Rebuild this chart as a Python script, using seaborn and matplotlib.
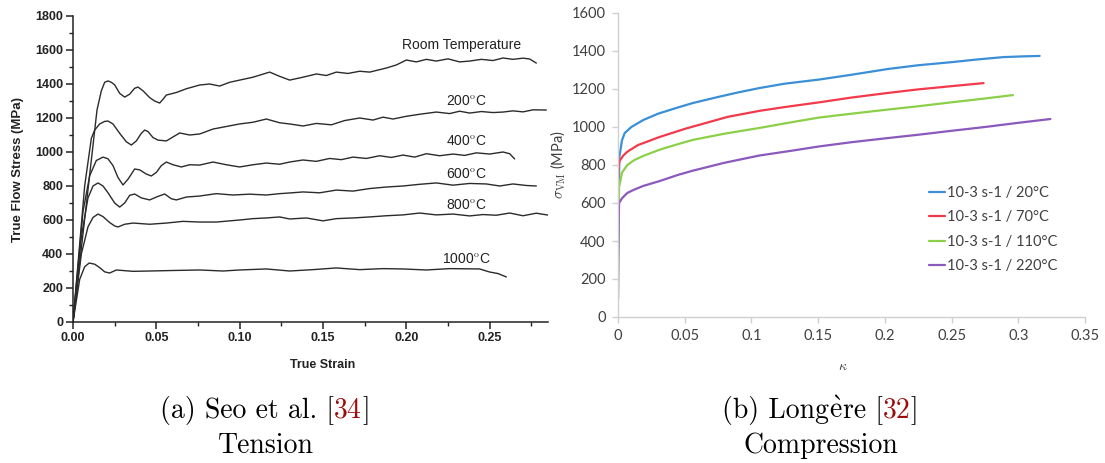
import numpy as np
import pandas as pd
import matplotlib
matplotlib.use("Agg")
import matplotlib.pyplot as plt
import seaborn as sns
from matplotlib.ticker import MultipleLocator

sns.set_theme(style="white")
plt.rcParams["mathtext.fontset"] = "cm"

# ---------------- Data: (a) Seo et al. tension ----------------
rt_strain = [0, 0.0144, 0.017, 0.019, 0.021, 0.023, 0.025, 0.028, 0.031, 0.034, 0.037, 0.039,
             0.042, 0.046, 0.049, 0.052, 0.054, 0.056, 0.062, 0.068, 0.076,
             0.082, 0.088, 0.094, 0.100, 0.108, 0.118, 0.124, 0.130, 0.138, 0.146, 0.152, 0.158, 0.165,
             0.172, 0.178, 0.183, 0.188, 0.194, 0.200, 0.206, 0.212, 0.218, 0.225, 0.232, 0.238, 0.245,
             0.252, 0.258, 0.264, 0.270, 0.274, 0.278]
rt_stress = [0, 1247, 1360, 1410, 1418, 1410, 1395, 1345, 1323, 1340, 1375, 1382,
             1360, 1320, 1300, 1288, 1310, 1335, 1350, 1372, 1394,
             1400, 1388, 1410, 1423, 1440, 1470, 1445, 1423, 1440, 1459, 1450, 1470, 1462,
             1475, 1470, 1482, 1494, 1512, 1541, 1530, 1545, 1535, 1548, 1530, 1535, 1545,
             1538, 1553, 1545, 1552, 1547, 1523]

t200_strain = [0, 0.007, 0.011, 0.013, 0.016, 0.019, 0.021, 0.024, 0.028, 0.032, 0.035, 0.038,
               0.041, 0.043, 0.045, 0.048, 0.051, 0.056, 0.064, 0.070, 0.076,
               0.084, 0.092, 0.100, 0.108, 0.116, 0.124, 0.130, 0.138, 0.146, 0.155, 0.163, 0.172,
               0.180, 0.186, 0.192, 0.200, 0.208, 0.218, 0.226, 0.232, 0.238, 0.245, 0.252, 0.258,
               0.264, 0.270, 0.276, 0.284]
t200_stress = [0, 800, 1080, 1129, 1165, 1180, 1182, 1165, 1110, 1060, 1041, 1065,
               1110, 1129, 1120, 1085, 1070, 1065, 1112, 1100, 1106,
               1135, 1150, 1165, 1175, 1194, 1172, 1165, 1153, 1168, 1160, 1185, 1200,
               1188, 1205, 1194, 1210, 1222, 1235, 1226, 1240, 1229, 1238, 1232, 1235,
               1242, 1236, 1248, 1247]

t400_strain = [0, 0.006, 0.010, 0.014, 0.018, 0.021, 0.024, 0.027, 0.030, 0.033, 0.037, 0.040,
               0.044, 0.047, 0.050, 0.053, 0.056, 0.060, 0.065, 0.070, 0.076,
               0.084, 0.092, 0.100, 0.108, 0.116, 0.124, 0.130, 0.138, 0.146, 0.154, 0.161, 0.168,
               0.176, 0.184, 0.191, 0.198, 0.205, 0.212, 0.220, 0.228, 0.235, 0.242, 0.250, 0.258,
               0.262, 0.265]
t400_stress = [0, 650, 860, 950, 970, 960, 920, 850, 806, 840, 900, 895,
               870, 859, 880, 920, 941, 925, 912, 925, 923,
               941, 925, 912, 925, 935, 928, 941, 953, 945, 962, 955, 970,
               962, 978, 968, 982, 970, 990, 978, 988, 980, 995, 988, 1000,
               990, 959]

t600_strain = [0, 0.005, 0.009, 0.012, 0.015, 0.018, 0.021, 0.025, 0.028, 0.031, 0.034, 0.037,
               0.041, 0.046, 0.050, 0.055, 0.059, 0.062, 0.068, 0.076,
               0.086, 0.096, 0.106, 0.116, 0.124, 0.130, 0.138, 0.148, 0.158, 0.168, 0.178, 0.188,
               0.198, 0.208, 0.218, 0.228, 0.238, 0.248, 0.256, 0.264, 0.272, 0.278]
t600_stress = [0, 500, 730, 800, 818, 800, 760, 700, 676, 700, 745, 753,
               730, 718, 735, 753, 725, 718, 735, 741,
               755, 747, 752, 747, 755, 759, 765, 760, 776, 770, 785, 794,
               800, 810, 818, 805, 815, 812, 800, 812, 803, 800]

t800_strain = [0, 0.005, 0.009, 0.012, 0.015, 0.018, 0.022, 0.025, 0.027, 0.031, 0.036, 0.046,
               0.056, 0.066, 0.076, 0.086,
               0.100, 0.108, 0.116, 0.124, 0.130, 0.140, 0.150, 0.158, 0.168, 0.178, 0.188, 0.198,
               0.208, 0.218, 0.228, 0.238, 0.246, 0.254, 0.262, 0.270, 0.278, 0.285]
t800_stress = [0, 400, 560, 615, 635, 620, 585, 565, 559, 575, 582, 575,
               582, 592, 588, 588,
               600, 608, 612, 618, 606, 612, 595, 608, 612, 618, 625, 630,
               641, 630, 635, 624, 632, 628, 641, 625, 640, 629]

t1000_strain = [0, 0.004, 0.007, 0.0097, 0.013, 0.016, 0.019, 0.022, 0.026, 0.036, 0.046, 0.060,
                0.076, 0.090, 0.100, 0.116, 0.130, 0.144, 0.158, 0.172, 0.186, 0.198, 0.212, 0.226,
                0.244, 0.250, 0.255, 0.260]
t1000_stress = [0, 250, 325, 347, 340, 320, 295, 288, 306, 298, 300, 303,
                306, 300, 306, 312, 300, 308, 318, 308, 314, 312, 306, 314,
                312, 294, 285, 265]

tension_series = [
    (rt_strain, rt_stress), (t200_strain, t200_stress), (t400_strain, t400_stress),
    (t600_strain, t600_stress), (t800_strain, t800_stress), (t1000_strain, t1000_stress),
]
tension_labels = ["Room Temperature", r"200$^{\rm o}$C", r"400$^{\rm o}$C",
                  r"600$^{\rm o}$C", r"800$^{\rm o}$C", r"1000$^{\rm o}$C"]
tension_label_x = [0.233, 0.236, 0.236, 0.236, 0.236, 0.236]
tension_label_y = [1630, 1300, 1065, 870, 690, 370]

# ---------------- Data: (b) Longere compression ----------------
b20_kappa = [0, 0.0005, 0.001, 0.003, 0.005, 0.010, 0.019, 0.030, 0.045, 0.056, 0.075, 0.090,
             0.106, 0.125, 0.151, 0.175, 0.202, 0.225, 0.251, 0.270, 0.289, 0.305, 0.316]
b20_sigma = [320, 600, 842, 930, 968, 1000, 1037, 1070, 1103, 1126, 1158, 1182,
             1205, 1228, 1250, 1275, 1305, 1325, 1342, 1356, 1368, 1372, 1374]
b70_kappa = [0, 0.0005, 0.001, 0.004, 0.007, 0.015, 0.031, 0.050, 0.082, 0.106, 0.125, 0.151,
             0.175, 0.202, 0.225, 0.250, 0.274]
b70_sigma = [711, 790, 820, 850, 870, 905, 947, 990, 1053, 1085, 1105, 1130,
             1155, 1179, 1198, 1215, 1231]
b110_kappa = [0, 0.0003, 0.0008, 0.003, 0.007, 0.012, 0.019, 0.031, 0.045, 0.056, 0.080, 0.106,
              0.130, 0.151, 0.175, 0.200, 0.226, 0.250, 0.275, 0.296]
b110_sigma = [89, 400, 684, 760, 800, 825, 848, 880, 910, 932, 965, 995,
              1025, 1050, 1070, 1090, 1110, 1130, 1150, 1168]
b220_kappa = [0, 0.0003, 0.0008, 0.003, 0.007, 0.012, 0.019, 0.031, 0.045, 0.056, 0.080, 0.106,
              0.130, 0.151, 0.175, 0.200, 0.226, 0.250, 0.275, 0.300, 0.324]
b220_sigma = [100, 350, 600, 625, 653, 670, 690, 715, 748, 770, 812, 850,
              875, 898, 920, 940, 960, 980, 1000, 1022, 1042]

comp_series = [(b20_kappa, b20_sigma), (b70_kappa, b70_sigma),
               (b110_kappa, b110_sigma), (b220_kappa, b220_sigma)]
comp_labels = ["10-3 s-1 / 20°C", "10-3 s-1 / 70°C", "10-3 s-1 / 110°C", "10-3 s-1 / 220°C"]
comp_colors = ["#3a8fd6", "#f23a4b", "#8bd048", "#8b59bd"]

# ---------------- Figure ----------------
W, H = 1105, 463
fig = plt.figure(figsize=(W / 100, H / 100), dpi=100)
fig.patch.set_facecolor("white")

def rect(l, t, r, b):
    return [l / W, 1 - b / H, (r - l) / W, (b - t) / H]

# ----- Left panel -----
axL = fig.add_axes(rect(73, 16, 548, 322))
frames = []
for (s, v), lab in zip(tension_series, tension_labels):
    frames.append(pd.DataFrame({"strain": s, "stress": v, "curve": lab}))
dfL = pd.concat(frames, ignore_index=True)
sns.lineplot(data=dfL, x="strain", y="stress", units="curve", estimator=None,
             color="#2b2b2b", lw=1.0, sort=False, ax=axL, legend=False)
for lab, lx, ly in zip(tension_labels, tension_label_x, tension_label_y):
    axL.text(lx, ly, lab, ha="center", va="center", fontsize=10,
             family="Liberation Sans", color="#222222")
axL.set_xlim(0, 0.285)
axL.set_ylim(0, 1800)
axL.xaxis.set_major_locator(MultipleLocator(0.05))
axL.xaxis.set_minor_locator(MultipleLocator(0.025))
axL.yaxis.set_major_locator(MultipleLocator(200))
axL.yaxis.set_minor_locator(MultipleLocator(100))
axL.xaxis.set_major_formatter(matplotlib.ticker.FormatStrFormatter("%.2f"))
for sp in ["top", "right"]:
    axL.spines[sp].set_visible(False)
for sp in ["left", "bottom"]:
    axL.spines[sp].set_color("#222222")
    axL.spines[sp].set_linewidth(1.1)
axL.tick_params(which="major", direction="out", length=5, width=1.1, color="#222222",
                labelsize=9, pad=2, bottom=True, left=True)
axL.tick_params(which="minor", direction="out", length=3, width=1.0, color="#222222",
                bottom=True, left=True)
for t in axL.get_xticklabels() + axL.get_yticklabels():
    t.set_fontweight("bold")
    t.set_family("Liberation Sans")
    t.set_color("#222222")
axL.set_xlabel("True Strain", fontsize=9, fontweight="bold", family="Liberation Sans",
               color="#222222")
axL.xaxis.set_label_coords((323 - 73) / (548 - 73), -(365 - 322) / (322 - 16), transform=axL.transAxes)
axL.xaxis.label.set_va("center")
axL.set_ylabel("True Flow Stress (MPa)", fontsize=9.5, fontweight="bold",
               family="Liberation Sans", color="#222222", labelpad=8)

# ----- Right panel -----
axR = fig.add_axes(rect(618, 13, 1085, 317))
frames = []
for (k, s), lab in zip(comp_series, comp_labels):
    frames.append(pd.DataFrame({"kappa": k, "sigma": s, "serie": lab}))
dfR = pd.concat(frames, ignore_index=True)
sns.lineplot(data=dfR, x="kappa", y="sigma", hue="serie", palette=comp_colors,
             estimator=None, sort=False, lw=1.6, ax=axR)
axR.set_xlim(0, 0.35)
axR.set_ylim(0, 1600)
axR.xaxis.set_major_locator(MultipleLocator(0.05))
axR.yaxis.set_major_locator(MultipleLocator(200))
axR.xaxis.set_major_formatter(matplotlib.ticker.FuncFormatter(lambda v, p: f"{v:g}"))
for sp in ["top", "right"]:
    axR.spines[sp].set_visible(False)
for sp in ["left", "bottom"]:
    axR.spines[sp].set_color("#d0d0d0")
    axR.spines[sp].set_linewidth(1.0)
axR.tick_params(which="major", direction="out", length=4, width=1.0, color="#d0d0d0",
                labelsize=10.5, labelcolor="#404040", pad=5, bottom=True, left=True)
for t in axR.get_xticklabels() + axR.get_yticklabels():
    t.set_family("Lato")
axR.set_xlabel(r"$\kappa$", fontsize=10, color="#404040")
axR.xaxis.set_label_coords((843 - 618) / (1085 - 618), -(366 - 317) / (317 - 13), transform=axR.transAxes)
axR.xaxis.label.set_va("center")
axR.set_ylabel(r"$\sigma_{\rm VM}$ (MPa)", fontsize=10.5, color="#404040",
               family="Lato", labelpad=3)
leg = axR.legend(loc="upper left", bbox_to_anchor=(929 / W, 1 - 186 / H),
                 bbox_transform=fig.transFigure, frameon=False, borderpad=0,
                 borderaxespad=0, handlelength=1.1, handletextpad=0.15,
                 labelspacing=0.72, prop={"family": "Lato", "size": 10.5})
for t in leg.get_texts():
    t.set_color("#404040")
for h in leg.get_lines():
    h.set_linewidth(1.6)

# ----- Captions -----
cap_size = 20
red = "#9b0d0d"
cap_family = ["cmr10", "DejaVu Serif"]
fig.canvas.draw()
renderer = fig.canvas.get_renderer()

def caption(cx, y, parts):
    # parts: list of (text, color); laid out left-to-right and centered on cx (pixels)
    texts = []
    widths = []
    for s, c in parts:
        t = fig.text(0, y / H, s, fontsize=cap_size, color=c, ha="left", va="baseline",
                     family=cap_family)
        bb = t.get_window_extent(renderer)
        texts.append(t)
        widths.append(bb.width)
    total = sum(widths)
    x = cx - total / 2
    for t, w in zip(texts, widths):
        t.set_x(x / W)
        x += w

caption(265, H - 418, [("(a) Seo et al. [", "black"), ("34", red), ("]", "black")])
caption(266, H - 453, [("Tension", "black")])
caption(820, H - 418, [("(b) Long", "black"), (r"$\mathrm{\grave{e}}$", "black"),
                       ("re [", "black"), ("32", red), ("]", "black")])
caption(821, H - 453, [("Compression", "black")])

fig.savefig("out.png", dpi=100, facecolor="white")
